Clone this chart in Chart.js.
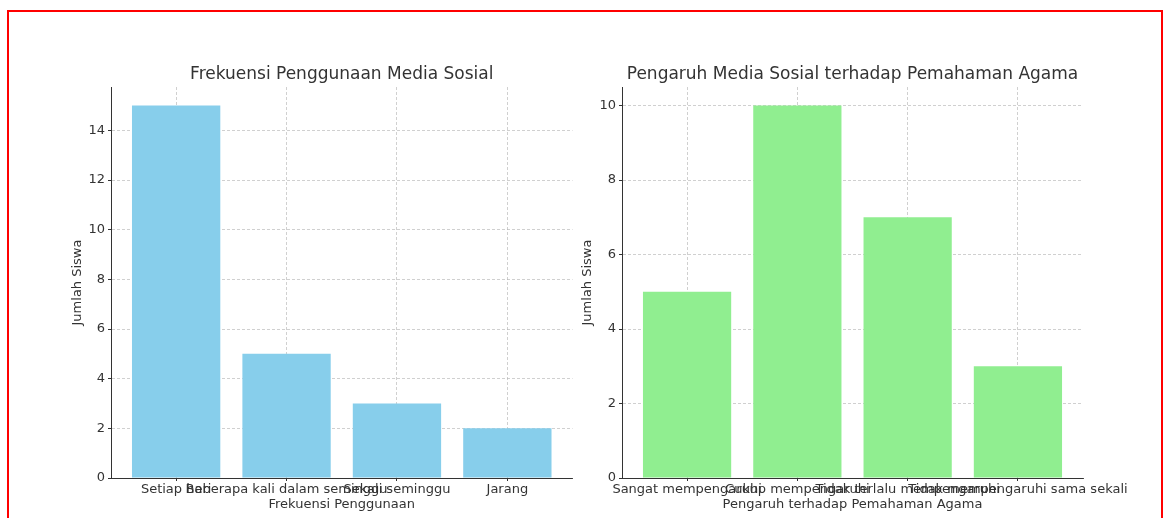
<!DOCTYPE html>
<html>
<head>
<meta charset="utf-8">
<script src="https://cdn.jsdelivr.net/npm/chart.js@4.4.0/dist/chart.umd.min.js"></script>
<style>
  html, body { margin: 0; padding: 0; background: #ffffff; width: 1164px; height: 518px; overflow: hidden; }
  #frame { position: absolute; left: 7px; top: 10px; width: 1152px; height: 600px; border: 2px solid #ff0000; }
  canvas { position: absolute; }
</style>
</head>
<body>
<div id="frame"></div>
<canvas id="c1"></canvas>
<canvas id="c2"></canvas>
<script>
// ---- data ----
const freqCategories = ["Setiap hari", "Beberapa kali dalam seminggu", "Sekali seminggu", "Jarang"];
const freqValues = [15, 5, 3, 2];
const freqYTicks = [0, 2, 4, 6, 8, 10, 12, 14];
const freqYMax = 15.75;

const effectCategories = ["Sangat mempengaruhi", "Cukup mempengaruhi", "Tidak terlalu mempengaruhi", "Tidak mempengaruhi sama sekali"];
const effectValues = [5, 10, 7, 3];
const effectYTicks = [0, 2, 4, 6, 8, 10];
const effectYMax = 10.5;

const FONT = "'DejaVu Sans', sans-serif";
const TEXT = '#333333';

function makeChart(id, box, categories, values, yTicks, yMax, color, title, xTitle, yAxisWidth, padRight) {
  const cv = document.getElementById(id);
  cv.style.left = box.left + 'px';
  cv.style.top = box.top + 'px';
  cv.style.width = box.width + 'px';
  cv.style.height = box.height + 'px';
  cv.width = box.width;
  cv.height = box.height;

  const gridCommon = {
    color: 'rgba(176,176,176,0.75)',
    lineWidth: 0.8,
    offset: false,
    drawTicks: true,
    tickLength: 3,
    tickColor: '#333333',
    tickWidth: 1
  };

  return new Chart(cv, {
    type: 'bar',
    data: {
      datasets: [{
        data: values.map((v, i) => ({ x: i, y: v })),
        backgroundColor: color,
        borderWidth: 0,
        barPercentage: 0.8,
        categoryPercentage: 1.0
      }]
    },
    options: {
      responsive: false,
      animation: false,
      devicePixelRatio: 1,
      layout: { padding: { left: 0, right: padRight, top: 0, bottom: 0 } },
      plugins: {
        legend: { display: false },
        tooltip: { enabled: false },
        title: {
          display: true,
          text: title,
          fullSize: false,
          color: TEXT,
          font: { family: FONT, size: 17, weight: 'normal' },
          padding: { top: 24.8, bottom: 1.8 }
        }
      },
      scales: {
        x: {
          type: 'linear',
          offset: false,
          min: -0.59,
          max: categories.length - 1 + 0.59,
          z: 1,
          grid: gridCommon,
          border: { display: true, color: '#333333', width: 1, dash: [3, 2] },
          afterBuildTicks: (s) => { s.ticks = categories.map((_, i) => ({ value: i })); },
          afterFit: (s) => { s.height = 40; },
          ticks: {
            autoSkip: false,
            maxRotation: 0,
            minRotation: 0,
            padding: 1,
            color: TEXT,
            font: { family: FONT, size: 13 },
            callback: (v) => categories[Math.round(v)]
          },
          title: {
            display: true,
            text: xTitle,
            color: TEXT,
            font: { family: FONT, size: 13 },
            padding: { top: 0, bottom: 6 }
          }
        },
        y: {
          type: 'linear',
          min: 0,
          max: yMax,
          z: 1,
          grid: gridCommon,
          border: { display: true, color: '#333333', width: 1, dash: [3, 2] },
          afterBuildTicks: (s) => { s.ticks = yTicks.map(v => ({ value: v })); },
          afterFit: (s) => { s.width = yAxisWidth; },
          ticks: {
            padding: 3,
            color: TEXT,
            font: { family: FONT, size: 13 }
          },
          title: {
            display: true,
            text: 'Jumlah Siswa',
            color: TEXT,
            font: { family: FONT, size: 13 },
            padding: { top: 0, bottom: 0 }
          }
        }
      }
    }
  });
}

makeChart('c1', { left: 70, top: 40, width: 510, height: 478 },
  freqCategories, freqValues, freqYTicks, freqYMax, '#87CEEB',
  'Frekuensi Penggunaan Media Sosial', 'Frekuensi Penggunaan', 41, 7.5);

makeChart('c2', { left: 580, top: 40, width: 570, height: 478 },
  effectCategories, effectValues, effectYTicks, effectYMax, '#90EE90',
  'Pengaruh Media Sosial terhadap Pemahaman Agama', 'Pengaruh terhadap Pemahaman Agama', 42, 67);
</script>
</body>
</html>
